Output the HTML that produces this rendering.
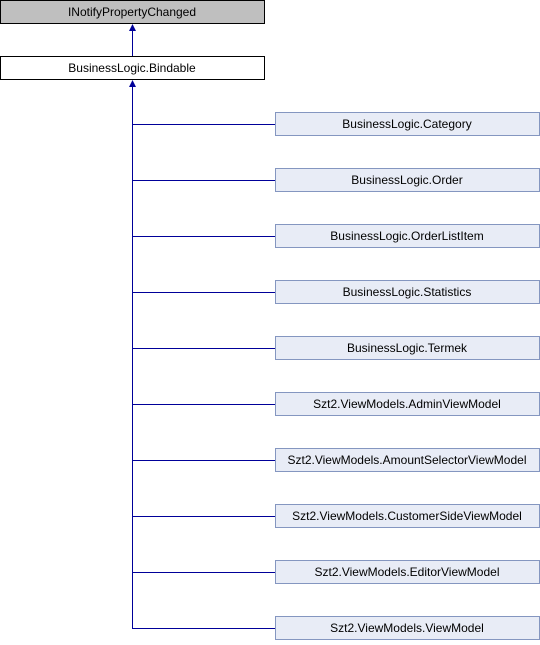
<!DOCTYPE html>
<html><head><style>
body{margin:0;width:540px;height:640px;background:#fff;overflow:hidden}
svg text{font-family:"Liberation Sans",sans-serif;font-size:12px;text-anchor:middle}
</style></head><body>
<svg width="540" height="640" xmlns="http://www.w3.org/2000/svg">
<g stroke="#000099" stroke-width="1" fill="none">
<line x1="132.5" y1="56" x2="132.5" y2="30"/>
<line x1="132.5" y1="628.5" x2="132.5" y2="86"/>
<line x1="132" y1="124.5" x2="275" y2="124.5"/>
<line x1="132" y1="180.5" x2="275" y2="180.5"/>
<line x1="132" y1="236.5" x2="275" y2="236.5"/>
<line x1="132" y1="292.5" x2="275" y2="292.5"/>
<line x1="132" y1="348.5" x2="275" y2="348.5"/>
<line x1="132" y1="404.5" x2="275" y2="404.5"/>
<line x1="132" y1="460.5" x2="275" y2="460.5"/>
<line x1="132" y1="516.5" x2="275" y2="516.5"/>
<line x1="132" y1="572.5" x2="275" y2="572.5"/>
<line x1="132" y1="628.5" x2="275" y2="628.5"/>
</g>
<polygon points="132.5,24 129,31 136,31" fill="#000099"/>
<polygon points="132.5,80 129,87 136,87" fill="#000099"/>
<rect x="0.5" y="0.5" width="264" height="23" fill="#bfbfbf" stroke="#000"/>
<text x="132" y="16">INotifyPropertyChanged</text>
<rect x="0.5" y="56.5" width="264" height="23" fill="#fff" stroke="#000"/>
<text x="132" y="72">BusinessLogic.Bindable</text>
<g fill="#e8ecf6" stroke="#8496c0">
<rect x="275.5" y="112.5" width="264" height="23"/>
<rect x="275.5" y="168.5" width="264" height="23"/>
<rect x="275.5" y="224.5" width="264" height="23"/>
<rect x="275.5" y="280.5" width="264" height="23"/>
<rect x="275.5" y="336.5" width="264" height="23"/>
<rect x="275.5" y="392.5" width="264" height="23"/>
<rect x="275.5" y="448.5" width="264" height="23"/>
<rect x="275.5" y="504.5" width="264" height="23"/>
<rect x="275.5" y="560.5" width="264" height="23"/>
<rect x="275.5" y="616.5" width="264" height="23"/>
</g>
<g fill="#000">
<text x="407" y="128">BusinessLogic.Category</text>
<text x="407" y="184">BusinessLogic.Order</text>
<text x="407" y="240">BusinessLogic.OrderListItem</text>
<text x="407" y="296">BusinessLogic.Statistics</text>
<text x="407" y="352">BusinessLogic.Termek</text>
<text x="407" y="408">Szt2.ViewModels.AdminViewModel</text>
<text x="407" y="464">Szt2.ViewModels.AmountSelectorViewModel</text>
<text x="407" y="520">Szt2.ViewModels.CustomerSideViewModel</text>
<text x="407" y="576">Szt2.ViewModels.EditorViewModel</text>
<text x="407" y="632">Szt2.ViewModels.ViewModel</text>
</g>
</svg>
</body></html>
